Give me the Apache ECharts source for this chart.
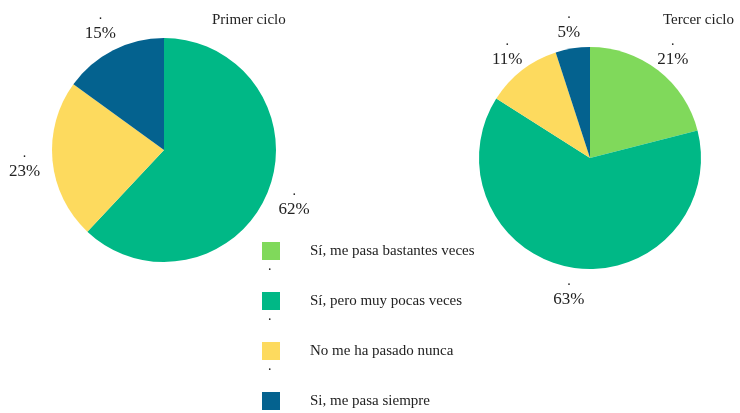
<!DOCTYPE html>
<html>
<head>
<meta charset="utf-8">
<style>
  html, body { margin: 0; padding: 0; background: #ffffff; }
  #chart { width: 740px; height: 413px; }
</style>
<script src="https://cdn.jsdelivr.net/npm/echarts@6/dist/echarts.min.js"></script>
</head>
<body>
<div id="chart"></div>
<script>
// Answer categories, shared by both groups
const categories = [
  'Sí, me pasa bastantes veces',
  'Sí, pero muy pocas veces',
  'No me ha pasado nunca',
  'Si, me pasa siempre'
];
const colors = ['#80D95B', '#00B886', '#FDDA5E', '#04628F'];

// Percentages per group
const primerCiclo = [0, 62, 23, 15];
const tercerCiclo = [21, 63, 11, 5];

const titles = ['Primer ciclo', 'Tercer ciclo'];

const serif = '"Liberation Serif", "DejaVu Serif", serif';

function toData(values) {
  return categories.map((name, i) => ({
    name: name,
    value: values[i],
    itemStyle: { color: colors[i] }
  }));
}

// Visible pie
function pieSeries(values, center, radius) {
  return {
    type: 'pie',
    center: center,
    radius: radius,
    startAngle: 90,
    clockwise: true,
    silent: true,
    label: { show: false },
    labelLine: { show: false },
    emphasis: { disabled: true },
    data: toData(values)
  };
}

// Transparent ring carrying the percentage labels just outside the pie
function labelRing(values, center, r0, r1) {
  return {
    type: 'pie',
    center: center,
    radius: [r0, r1],
    startAngle: 90,
    clockwise: true,
    silent: true,
    emphasis: { disabled: true },
    itemStyle: { color: 'rgba(0,0,0,0)' },
    labelLine: { show: false },
    label: {
      show: true,
      position: 'inside',
      formatter: p => p.value === 0 ? '' : '{dot|.}\n{pct|' + p.value + '%}',
      rich: {
        dot: { fontFamily: serif, fontSize: 14, lineHeight: 16, color: '#222', align: 'center' },
        pct: { fontFamily: serif, fontSize: 17, lineHeight: 20, color: '#222', align: 'center' }
      }
    },
    data: categories.map((name, i) => ({ name: name, value: values[i] }))
  };
}

const chart = echarts.init(document.getElementById('chart'), null, { renderer: 'canvas' });

const leftCenter = [164, 150];
const rightCenter = [590, 158];

chart.setOption({
  backgroundColor: '#ffffff',
  animation: false,
  color: colors,
  title: [
    { text: titles[0], left: 207, top: 8, textStyle: { fontFamily: serif, fontSize: 15, fontWeight: 'normal', color: '#222' } },
    { text: titles[1], left: 658, top: 8, textStyle: { fontFamily: serif, fontSize: 15, fontWeight: 'normal', color: '#222' } }
  ],
  legend: {
    orient: 'vertical',
    left: 257,
    top: 237,
    height: 180,
    icon: 'rect',
    itemWidth: 18,
    itemHeight: 18,
    itemGap: 32,
    selectedMode: false,
    data: categories,
    textStyle: {
      fontFamily: serif,
      fontSize: 15,
      color: '#222',
      padding: [0, 0, 6, 25]
    }
  },
  graphic: [0, 1, 2].map(i => ({
    type: 'text',
    left: 268,
    top: 259 + i * 50,
    silent: true,
    style: { text: '.', fontFamily: serif, fontSize: 14, fill: '#222' }
  })),
  series: [
    pieSeries(primerCiclo, leftCenter, 112),
    pieSeries(tercerCiclo, rightCenter, 111),
    labelRing(primerCiclo, leftCenter, 112, 162),
    labelRing(tercerCiclo, rightCenter, 111, 153)
  ]
});
</script>
</body>
</html>
